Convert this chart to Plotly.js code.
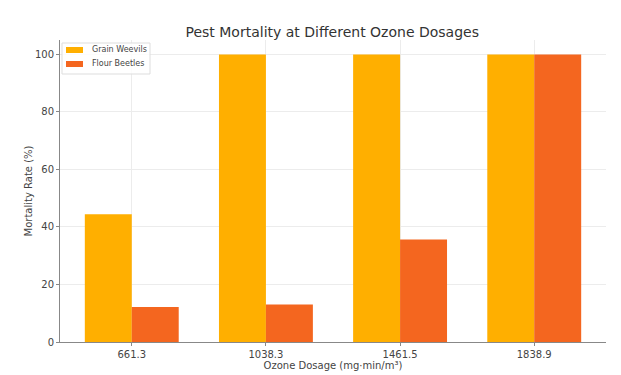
<!DOCTYPE html>
<html><head><meta charset="utf-8">
<script src="https://cdn.plot.ly/plotly-3.0.1.min.js"></script>
<style>html,body{margin:0;padding:0;background:#fff}#c{width:621px;height:375px}</style>
</head><body><div id="c"></div>
<script>
const dosages = ['661.3', '1038.3', '1461.5', '1838.9'];
const seriesNames = ['Grain Weevils', 'Flour Beetles'];
const grainWeevils = [44.4, 100, 100, 100];
const flourBeetles = [12.2, 13.0, 35.6, 100];
const colors = ['#FFAF00', '#F4661F'];

const traces = [
  {type:'bar', name:seriesNames[0], x:dosages, y:grainWeevils, marker:{color:colors[0]}},
  {type:'bar', name:seriesNames[1], x:dosages, y:flourBeetles, marker:{color:colors[1]}}
];

// plot area in px: x 60..606, y 40..342
const px = v => (v - 60) / 546;
const py = v => (342 - v) / 302;
const shapes = [
  {type:'rect', xref:'paper', yref:'paper', x0:px(62), x1:px(150), y0:py(74), y1:py(43), line:{color:'#ddd', width:1}, fillcolor:'rgba(255,255,255,0.85)', layer:'above'}
];
const annotations = [];
seriesNames.forEach((n, i) => {
  const yc = 50 + i * 14;
  shapes.push({type:'rect', xref:'paper', yref:'paper', x0:px(66), x1:px(83), y0:py(yc + 3), y1:py(yc - 3), line:{width:0}, fillcolor:colors[i], layer:'above'});
  annotations.push({xref:'paper', yref:'paper', x:px(90), y:py(yc), xanchor:'left', yanchor:'middle', showarrow:false, text:n, font:{size:8, color:'#444'}});
});

const layout = {
  width:621, height:375,
  margin:{l:60, r:15, t:40, b:33},
  paper_bgcolor:'#fff', plot_bgcolor:'#fff',
  font:{family:'DejaVu Sans', color:'#444', size:10},
  title:{text:'Pest Mortality at Different Ozone Dosages', font:{size:14, color:'#333'}, x:0.535, xanchor:'center', y:0.915, yanchor:'middle'},
  barmode:'group', bargap:0.3, bargroupgap:0,
  xaxis:{type:'category', range:[-0.535,3.535], showgrid:true, gridcolor:'#ececec', showline:true, linecolor:'#888', linewidth:1,
    ticks:'outside', ticklen:3, tickcolor:'#888', tickfont:{size:10, color:'#444'},
    title:{text:'Ozone Dosage (mg·min/m³)', font:{size:10, color:'#444'}, standoff:0}},
  yaxis:{range:[0,105], tickvals:[0,20,40,60,80,100], showgrid:true, gridcolor:'#ececec', zeroline:false, showline:true, linecolor:'#888', linewidth:1,
    ticks:'outside', ticklen:3, tickcolor:'#888', tickfont:{size:10, color:'#444'},
    title:{text:'Mortality Rate (%)', font:{size:10, color:'#444'}, standoff:0}},
  showlegend:false,
  shapes: shapes,
  annotations: annotations
};
Plotly.newPlot('c', traces, layout, {displayModeBar:false, staticPlot:true});
</script></body></html>
